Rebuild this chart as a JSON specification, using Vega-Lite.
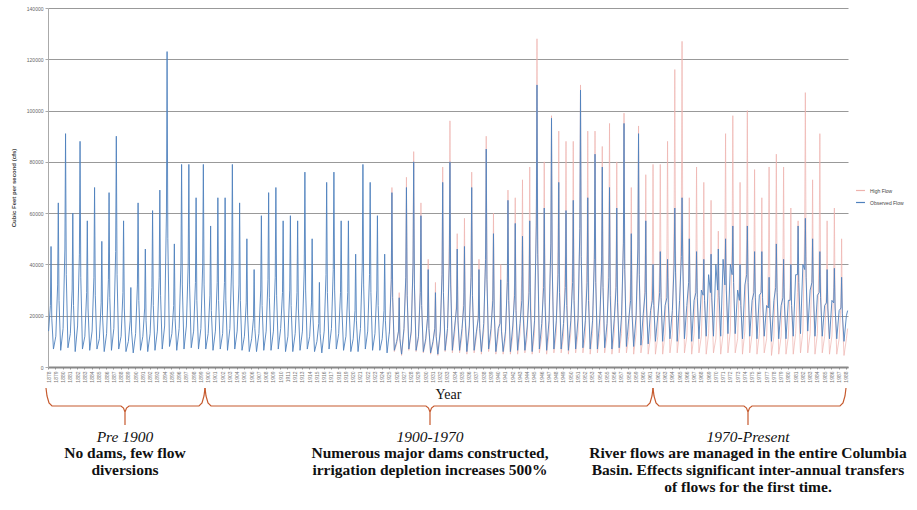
{
"$schema":"https://vega.github.io/schema/vega-lite/v6.json",
"width":800,"height":359,
"autosize":{"type":"none"},
"padding":{"left":48,"top":8,"right":69,"bottom":143},
"background":"white",
"config":{"view":{"stroke":null},"font":"Liberation Sans"},
"datasets":{
"flow":[
{"t":1878.08,"o":14000},{"t":1878.33,"o":24000},{"t":1878.42,"o":47000},{"t":1878.52,"o":19000},{"t":1878.75,"o":7000},
{"t":1879.08,"o":12000},{"t":1879.33,"o":32000},{"t":1879.42,"o":64000},{"t":1879.52,"o":26000},{"t":1879.75,"o":6500},
{"t":1880.08,"o":15000},{"t":1880.33,"o":46000},{"t":1880.42,"o":91000},{"t":1880.52,"o":36000},{"t":1880.75,"o":7500},
{"t":1881.08,"o":13000},{"t":1881.33,"o":30000},{"t":1881.42,"o":60000},{"t":1881.52,"o":24000},{"t":1881.75,"o":6000},
{"t":1882.08,"o":16000},{"t":1882.33,"o":44000},{"t":1882.42,"o":88000},{"t":1882.52,"o":35000},{"t":1882.75,"o":7000},
{"t":1883.08,"o":12000},{"t":1883.33,"o":29000},{"t":1883.42,"o":57000},{"t":1883.52,"o":23000},{"t":1883.75,"o":6500},
{"t":1884.08,"o":14000},{"t":1884.33,"o":35000},{"t":1884.42,"o":70000},{"t":1884.52,"o":28000},{"t":1884.75,"o":7000},
{"t":1885.08,"o":11000},{"t":1885.33,"o":25000},{"t":1885.42,"o":49000},{"t":1885.52,"o":20000},{"t":1885.75,"o":6000},
{"t":1886.08,"o":13000},{"t":1886.33,"o":34000},{"t":1886.42,"o":68000},{"t":1886.52,"o":27000},{"t":1886.75,"o":6500},
{"t":1887.08,"o":15000},{"t":1887.33,"o":45000},{"t":1887.42,"o":90000},{"t":1887.52,"o":36000},{"t":1887.75,"o":7000},
{"t":1888.08,"o":12000},{"t":1888.33,"o":29000},{"t":1888.42,"o":57000},{"t":1888.52,"o":23000},{"t":1888.75,"o":6000},
{"t":1889.08,"o":10000},{"t":1889.33,"o":18000},{"t":1889.42,"o":31000},{"t":1889.52,"o":14000},{"t":1889.75,"o":5500},
{"t":1890.08,"o":13000},{"t":1890.33,"o":32000},{"t":1890.42,"o":64000},{"t":1890.52,"o":26000},{"t":1890.75,"o":6500},
{"t":1891.08,"o":12000},{"t":1891.33,"o":23000},{"t":1891.42,"o":46000},{"t":1891.52,"o":18000},{"t":1891.75,"o":6000},
{"t":1892.08,"o":13000},{"t":1892.33,"o":31000},{"t":1892.42,"o":61000},{"t":1892.52,"o":24000},{"t":1892.75,"o":6500},
{"t":1893.08,"o":14000},{"t":1893.33,"o":35000},{"t":1893.42,"o":69000},{"t":1893.52,"o":28000},{"t":1893.75,"o":7000},
{"t":1894.08,"o":16000},{"t":1894.33,"o":60000},{"t":1894.42,"o":123000},{"t":1894.52,"o":50000},{"t":1894.75,"o":8000},
{"t":1895.08,"o":13000},{"t":1895.33,"o":24000},{"t":1895.42,"o":48000},{"t":1895.52,"o":19000},{"t":1895.75,"o":6500},
{"t":1896.08,"o":15000},{"t":1896.33,"o":40000},{"t":1896.42,"o":79000},{"t":1896.52,"o":32000},{"t":1896.75,"o":7000},
{"t":1897.08,"o":16000},{"t":1897.33,"o":40000},{"t":1897.42,"o":79000},{"t":1897.52,"o":32000},{"t":1897.75,"o":7500},
{"t":1898.08,"o":14000},{"t":1898.33,"o":33000},{"t":1898.42,"o":66000},{"t":1898.52,"o":26000},{"t":1898.75,"o":7000},
{"t":1899.08,"o":15000},{"t":1899.33,"o":40000},{"t":1899.42,"o":79000},{"t":1899.52,"o":32000},{"t":1899.75,"o":7000},
{"t":1900.08,"o":13000},{"t":1900.33,"o":28000},{"t":1900.42,"o":55000},{"t":1900.52,"o":22000},{"t":1900.75,"o":6500},
{"t":1901.08,"o":14000},{"t":1901.33,"o":33000},{"t":1901.42,"o":66000},{"t":1901.52,"o":26000},{"t":1901.75,"o":7000},
{"t":1902.08,"o":13000},{"t":1902.33,"o":33000},{"t":1902.42,"o":66000},{"t":1902.52,"o":26000},{"t":1902.75,"o":6500},
{"t":1903.08,"o":15000},{"t":1903.33,"o":40000},{"t":1903.42,"o":79000},{"t":1903.52,"o":32000},{"t":1903.75,"o":7000},
{"t":1904.08,"o":14000},{"t":1904.33,"o":32000},{"t":1904.42,"o":64000},{"t":1904.52,"o":26000},{"t":1904.75,"o":6500},
{"t":1905.08,"o":12000},{"t":1905.33,"o":25000},{"t":1905.42,"o":50000},{"t":1905.52,"o":20000},{"t":1905.75,"o":6000},
{"t":1906.08,"o":11000},{"t":1906.33,"o":19000},{"t":1906.42,"o":38000},{"t":1906.52,"o":15000},{"t":1906.75,"o":6000},
{"t":1907.08,"o":13000},{"t":1907.33,"o":30000},{"t":1907.42,"o":59000},{"t":1907.52,"o":24000},{"t":1907.75,"o":6500},
{"t":1908.08,"o":14000},{"t":1908.33,"o":34000},{"t":1908.42,"o":68000},{"t":1908.52,"o":27000},{"t":1908.75,"o":6500},
{"t":1909.08,"o":14000},{"t":1909.33,"o":35000},{"t":1909.42,"o":70000},{"t":1909.52,"o":28000},{"t":1909.75,"o":7000},
{"t":1910.08,"o":15000},{"t":1910.33,"o":29000},{"t":1910.42,"o":57000},{"t":1910.52,"o":23000},{"t":1910.75,"o":6000},
{"t":1911.08,"o":12000},{"t":1911.33,"o":30000},{"t":1911.42,"o":59000},{"t":1911.52,"o":24000},{"t":1911.75,"o":6000},
{"t":1912.08,"o":13000},{"t":1912.33,"o":29000},{"t":1912.42,"o":57000},{"t":1912.52,"o":23000},{"t":1912.75,"o":6500},
{"t":1913.08,"o":14000},{"t":1913.33,"o":38000},{"t":1913.42,"o":76000},{"t":1913.52,"o":30000},{"t":1913.75,"o":7000},
{"t":1914.08,"o":12000},{"t":1914.33,"o":25000},{"t":1914.42,"o":50000},{"t":1914.52,"o":20000},{"t":1914.75,"o":6000},
{"t":1915.08,"o":10000},{"t":1915.33,"o":17000},{"t":1915.42,"o":33000},{"t":1915.52,"o":13000},{"t":1915.75,"o":5500},
{"t":1916.08,"o":14000},{"t":1916.33,"o":36000},{"t":1916.42,"o":72000},{"t":1916.52,"o":29000},{"t":1916.75,"o":7000},
{"t":1917.08,"o":15000},{"t":1917.33,"o":38000},{"t":1917.42,"o":76000},{"t":1917.52,"o":30000},{"t":1917.75,"o":7000},
{"t":1918.08,"o":13000},{"t":1918.33,"o":29000},{"t":1918.42,"o":57000},{"t":1918.52,"o":23000},{"t":1918.75,"o":6500},
{"t":1919.08,"o":12000},{"t":1919.33,"o":29000},{"t":1919.42,"o":57000},{"t":1919.52,"o":23000},{"t":1919.75,"o":6000},
{"t":1920.08,"o":11000},{"t":1920.33,"o":22000},{"t":1920.42,"o":44000},{"t":1920.52,"o":18000},{"t":1920.75,"o":6000},
{"t":1921.08,"o":15000},{"t":1921.33,"o":40000},{"t":1921.42,"o":79000},{"t":1921.52,"o":32000},{"t":1921.75,"o":7000},
{"t":1922.08,"o":14000},{"t":1922.33,"o":36000},{"t":1922.42,"o":72000},{"t":1922.52,"o":29000},{"t":1922.75,"o":6500},
{"t":1923.08,"o":13000},{"t":1923.33,"o":30000},{"t":1923.42,"o":59000},{"t":1923.52,"o":24000},{"t":1923.75,"o":6500},
{"t":1924.08,"o":11000},{"t":1924.33,"o":22000},{"t":1924.42,"o":44000},{"t":1924.52,"o":18000},{"t":1924.75,"o":5500},
{"t":1925.08,"o":14000,"h":13000},{"t":1925.33,"o":34000,"h":34000},{"t":1925.42,"o":68000,"h":70000},{"t":1925.52,"o":27000,"h":27000},{"t":1925.75,"o":6500,"h":6000},
{"t":1926.08,"o":10000,"h":9000},{"t":1926.33,"o":14000,"h":14000},{"t":1926.42,"o":27000,"h":29000},{"t":1926.52,"o":11000,"h":11000},{"t":1926.75,"o":5000,"h":4500},
{"t":1927.08,"o":15000,"h":14000},{"t":1927.33,"o":35000,"h":36000},{"t":1927.42,"o":70000,"h":74000},{"t":1927.52,"o":28000,"h":28000},{"t":1927.75,"o":7000,"h":6500},
{"t":1928.08,"o":14000,"h":13000},{"t":1928.33,"o":40000,"h":41000},{"t":1928.42,"o":80000,"h":84000},{"t":1928.52,"o":32000,"h":32000},{"t":1928.75,"o":6500,"h":6000},
{"t":1929.08,"o":12000,"h":11000},{"t":1929.33,"o":29000,"h":31000},{"t":1929.42,"o":59000,"h":64000},{"t":1929.52,"o":24000,"h":24000},{"t":1929.75,"o":6000,"h":5500},
{"t":1930.08,"o":11000,"h":10000},{"t":1930.33,"o":19000,"h":20000},{"t":1930.42,"o":38000,"h":42000},{"t":1930.52,"o":15000,"h":15000},{"t":1930.75,"o":5500,"h":5000},
{"t":1931.08,"o":10000,"h":9000},{"t":1931.33,"o":15000,"h":16000},{"t":1931.42,"o":29000,"h":33000},{"t":1931.52,"o":12000,"h":12000},{"t":1931.75,"o":5000,"h":4500},
{"t":1932.08,"o":14000,"h":13000},{"t":1932.33,"o":36000,"h":38000},{"t":1932.42,"o":72000,"h":78000},{"t":1932.52,"o":29000,"h":29000},{"t":1932.75,"o":6500,"h":6000},
{"t":1933.08,"o":15000,"h":13000},{"t":1933.33,"o":40000,"h":48000},{"t":1933.42,"o":80000,"h":96000},{"t":1933.52,"o":32000,"h":38000},{"t":1933.75,"o":6500,"h":5500},
{"t":1934.08,"o":16000,"h":13000},{"t":1934.33,"o":23000,"h":26000},{"t":1934.42,"o":46000,"h":52000},{"t":1934.52,"o":18000,"h":21000},{"t":1934.75,"o":6500,"h":5500},
{"t":1935.08,"o":15000,"h":12000},{"t":1935.33,"o":24000,"h":29000},{"t":1935.42,"o":47000,"h":58000},{"t":1935.52,"o":19000,"h":23000},{"t":1935.75,"o":6000,"h":5000},
{"t":1936.08,"o":16000,"h":13000},{"t":1936.33,"o":35000,"h":38000},{"t":1936.42,"o":70000,"h":76000},{"t":1936.52,"o":28000,"h":30000},{"t":1936.75,"o":6500,"h":5500},
{"t":1937.08,"o":14000,"h":12000},{"t":1937.33,"o":19000,"h":21000},{"t":1937.42,"o":38000,"h":42000},{"t":1937.52,"o":15000,"h":17000},{"t":1937.75,"o":6000,"h":5000},
{"t":1938.08,"o":17000,"h":14000},{"t":1938.33,"o":42000,"h":45000},{"t":1938.42,"o":85000,"h":90000},{"t":1938.52,"o":34000,"h":36000},{"t":1938.75,"o":7000,"h":6000},
{"t":1939.08,"o":15000,"h":12000},{"t":1939.33,"o":26000,"h":30000},{"t":1939.42,"o":52000,"h":60000},{"t":1939.52,"o":21000,"h":24000},{"t":1939.75,"o":6000,"h":5000},
{"t":1940.08,"o":15000,"h":12000},{"t":1940.33,"o":17000,"h":20000},{"t":1940.42,"o":34000,"h":40000},{"t":1940.52,"o":14000,"h":16000},{"t":1940.75,"o":6000,"h":5000},
{"t":1941.08,"o":14000,"h":11000},{"t":1941.33,"o":33000,"h":35000},{"t":1941.42,"o":65000,"h":69000},{"t":1941.52,"o":26000,"h":28000},{"t":1941.75,"o":6000,"h":5000},
{"t":1942.08,"o":16000,"h":12000},{"t":1942.33,"o":28000,"h":33000},{"t":1942.42,"o":56000,"h":66000},{"t":1942.52,"o":22000,"h":26000},{"t":1942.75,"o":6500,"h":5000},
{"t":1943.08,"o":17000,"h":13000},{"t":1943.33,"o":26000,"h":36000},{"t":1943.42,"o":51000,"h":73000},{"t":1943.52,"o":20000,"h":29000},{"t":1943.75,"o":6500,"h":5500},
{"t":1944.08,"o":16000,"h":12000},{"t":1944.33,"o":29000,"h":39000},{"t":1944.42,"o":57000,"h":78000},{"t":1944.52,"o":23000,"h":31000},{"t":1944.75,"o":6000,"h":5000},
{"t":1945.08,"o":18000,"h":13000},{"t":1945.33,"o":55000,"h":64000},{"t":1945.42,"o":110000,"h":128000},{"t":1945.52,"o":44000,"h":51000},{"t":1945.75,"o":7000,"h":5500},
{"t":1946.08,"o":17000,"h":12000},{"t":1946.33,"o":31000,"h":40000},{"t":1946.42,"o":62000,"h":80000},{"t":1946.52,"o":25000,"h":32000},{"t":1946.75,"o":6500,"h":5000},
{"t":1947.08,"o":18000,"h":13000},{"t":1947.33,"o":48000,"h":49000},{"t":1947.42,"o":97000,"h":98000},{"t":1947.52,"o":39000,"h":39000},{"t":1947.75,"o":7000,"h":5500},
{"t":1948.08,"o":18000,"h":13000},{"t":1948.33,"o":36000,"h":46000},{"t":1948.42,"o":72000,"h":92000},{"t":1948.52,"o":29000,"h":37000},{"t":1948.75,"o":7000,"h":5500},
{"t":1949.08,"o":17000,"h":12000},{"t":1949.33,"o":31000,"h":44000},{"t":1949.42,"o":61000,"h":88000},{"t":1949.52,"o":24000,"h":35000},{"t":1949.75,"o":6500,"h":5000},
{"t":1950.08,"o":18000,"h":13000},{"t":1950.33,"o":33000,"h":44000},{"t":1950.42,"o":65000,"h":88000},{"t":1950.52,"o":26000,"h":35000},{"t":1950.75,"o":7000,"h":5500},
{"t":1951.08,"o":19000,"h":13000},{"t":1951.33,"o":54000,"h":55000},{"t":1951.42,"o":108000,"h":110000},{"t":1951.52,"o":43000,"h":44000},{"t":1951.75,"o":7500,"h":5500},
{"t":1952.08,"o":18000,"h":12000},{"t":1952.33,"o":33000,"h":46000},{"t":1952.42,"o":66000,"h":92000},{"t":1952.52,"o":26000,"h":37000},{"t":1952.75,"o":7000,"h":5000},
{"t":1953.08,"o":18000,"h":13000},{"t":1953.33,"o":42000,"h":46000},{"t":1953.42,"o":83000,"h":92000},{"t":1953.52,"o":33000,"h":37000},{"t":1953.75,"o":7000,"h":5500},
{"t":1954.08,"o":19000,"h":13000},{"t":1954.33,"o":39000,"h":43000},{"t":1954.42,"o":78000,"h":86000},{"t":1954.52,"o":31000,"h":34000},{"t":1954.75,"o":7500,"h":5500},
{"t":1955.08,"o":17000,"h":12000},{"t":1955.33,"o":35000,"h":48000},{"t":1955.42,"o":70000,"h":95000},{"t":1955.52,"o":28000,"h":38000},{"t":1955.75,"o":7000,"h":5000},
{"t":1956.08,"o":19000,"h":13000},{"t":1956.33,"o":31000,"h":40000},{"t":1956.42,"o":62000,"h":80000},{"t":1956.52,"o":25000,"h":32000},{"t":1956.75,"o":7500,"h":5500},
{"t":1957.08,"o":20000,"h":13000},{"t":1957.33,"o":48000,"h":50000},{"t":1957.42,"o":95000,"h":99000},{"t":1957.52,"o":38000,"h":40000},{"t":1957.75,"o":8000,"h":5500},
{"t":1958.08,"o":19000,"h":12000},{"t":1958.33,"o":26000,"h":35000},{"t":1958.42,"o":52000,"h":70000},{"t":1958.52,"o":21000,"h":28000},{"t":1958.75,"o":8000,"h":5000},
{"t":1959.08,"o":20000,"h":13000},{"t":1959.33,"o":46000,"h":47000},{"t":1959.42,"o":91000,"h":94000},{"t":1959.52,"o":36000,"h":38000},{"t":1959.75,"o":8500,"h":5500},
{"t":1960.08,"o":21000,"h":12000},{"t":1960.33,"o":29000,"h":38000},{"t":1960.42,"o":57000,"h":75000},{"t":1960.52,"o":23000,"h":30000},{"t":1960.75,"o":9000,"h":5000},
{"t":1961.08,"o":22000,"h":12000},{"t":1961.33,"o":26000,"h":40000},{"t":1961.42,"o":40000,"h":79000},{"t":1961.52,"o":24000,"h":32000},{"t":1961.75,"o":10000,"h":5000},
{"t":1962.08,"o":20000,"h":12000},{"t":1962.33,"o":29000,"h":40000},{"t":1962.42,"o":45000,"h":79000},{"t":1962.52,"o":27000,"h":32000},{"t":1962.75,"o":10000,"h":5000},
{"t":1963.08,"o":24000,"h":13000},{"t":1963.33,"o":27000,"h":44000},{"t":1963.42,"o":42000,"h":88000},{"t":1963.52,"o":25000,"h":35000},{"t":1963.75,"o":11000,"h":5500},
{"t":1964.08,"o":22000,"h":13000},{"t":1964.33,"o":40000,"h":58000},{"t":1964.42,"o":62000,"h":116000},{"t":1964.52,"o":37000,"h":46000},{"t":1964.75,"o":10000,"h":5500},
{"t":1965.08,"o":26000,"h":14000},{"t":1965.33,"o":43000,"h":64000},{"t":1965.42,"o":66000,"h":127000},{"t":1965.52,"o":40000,"h":51000},{"t":1965.75,"o":11000,"h":5500},
{"t":1966.08,"o":24000,"h":12000},{"t":1966.33,"o":33000,"h":33000},{"t":1966.42,"o":50000,"h":66000},{"t":1966.52,"o":30000,"h":26000},{"t":1966.75,"o":10000,"h":5000},
{"t":1967.08,"o":26000,"h":13000},{"t":1967.33,"o":29000,"h":39000},{"t":1967.42,"o":45000,"h":78000},{"t":1967.52,"o":27000,"h":31000},{"t":1967.75,"o":11000,"h":5500},
{"t":1968.08,"o":30000,"h":12000},{"t":1968.33,"o":28000,"h":36000},{"t":1968.42,"o":42000,"h":72000},{"t":1968.52,"o":26000,"h":29000},{"t":1968.75,"o":12000,"h":5000},
{"t":1969.08,"o":36000,"h":13000},{"t":1969.33,"o":29000,"h":33000},{"t":1969.42,"o":44000,"h":65000},{"t":1969.52,"o":27000,"h":26000},{"t":1969.75,"o":12000,"h":5500},
{"t":1970.08,"o":40000,"h":11000},{"t":1970.33,"o":30000,"h":27000},{"t":1970.42,"o":46000,"h":53000},{"t":1970.52,"o":28000,"h":21000},{"t":1970.75,"o":12000,"h":5000},
{"t":1971.08,"o":42000,"h":13000},{"t":1971.33,"o":32000,"h":46000},{"t":1971.42,"o":50000,"h":91000},{"t":1971.52,"o":30000,"h":36000},{"t":1971.75,"o":13000,"h":5500},
{"t":1972.08,"o":40000,"h":14000},{"t":1972.33,"o":36000,"h":49000},{"t":1972.42,"o":55000,"h":98000},{"t":1972.52,"o":33000,"h":39000},{"t":1972.75,"o":13000,"h":5500},
{"t":1973.08,"o":30000,"h":11000},{"t":1973.33,"o":26000,"h":36000},{"t":1973.42,"o":40000,"h":72000},{"t":1973.52,"o":24000,"h":29000},{"t":1973.75,"o":11000,"h":5000},
{"t":1974.08,"o":32000,"h":14000},{"t":1974.33,"o":36000,"h":50000},{"t":1974.42,"o":55000,"h":100000},{"t":1974.52,"o":33000,"h":40000},{"t":1974.75,"o":12000,"h":5500},
{"t":1975.08,"o":26000,"h":13000},{"t":1975.33,"o":29000,"h":39000},{"t":1975.42,"o":45000,"h":77000},{"t":1975.52,"o":27000,"h":31000},{"t":1975.75,"o":11000,"h":5000},
{"t":1976.08,"o":28000,"h":13000},{"t":1976.33,"o":29000,"h":33000},{"t":1976.42,"o":45000,"h":66000},{"t":1976.52,"o":27000,"h":26000},{"t":1976.75,"o":12000,"h":5500},
{"t":1977.08,"o":24000,"h":11000},{"t":1977.33,"o":23000,"h":39000},{"t":1977.42,"o":35000,"h":78000},{"t":1977.52,"o":21000,"h":31000},{"t":1977.75,"o":10000,"h":4500},
{"t":1978.08,"o":26000,"h":12000},{"t":1978.33,"o":31000,"h":42000},{"t":1978.42,"o":48000,"h":83000},{"t":1978.52,"o":29000,"h":33000},{"t":1978.75,"o":11000,"h":5000},
{"t":1979.08,"o":24000,"h":12000},{"t":1979.33,"o":27000,"h":39000},{"t":1979.42,"o":42000,"h":78000},{"t":1979.52,"o":25000,"h":31000},{"t":1979.75,"o":11000,"h":5000},
{"t":1980.08,"o":26000,"h":12000},{"t":1980.33,"o":26000,"h":31000},{"t":1980.42,"o":40000,"h":62000},{"t":1980.52,"o":24000,"h":25000},{"t":1980.75,"o":12000,"h":5000},
{"t":1981.08,"o":36000,"h":13000},{"t":1981.33,"o":36000,"h":29000},{"t":1981.42,"o":55000,"h":57000},{"t":1981.52,"o":33000,"h":23000},{"t":1981.75,"o":13000,"h":5500},
{"t":1982.08,"o":40000,"h":14000},{"t":1982.33,"o":38000,"h":54000},{"t":1982.42,"o":58000,"h":107000},{"t":1982.52,"o":35000,"h":43000},{"t":1982.75,"o":14000,"h":5500},
{"t":1983.08,"o":30000,"h":13000},{"t":1983.33,"o":33000,"h":37000},{"t":1983.42,"o":50000,"h":73000},{"t":1983.52,"o":30000,"h":29000},{"t":1983.75,"o":12000,"h":5000},
{"t":1984.08,"o":28000,"h":13000},{"t":1984.33,"o":29000,"h":46000},{"t":1984.42,"o":45000,"h":91000},{"t":1984.52,"o":27000,"h":36000},{"t":1984.75,"o":12000,"h":5500},
{"t":1985.08,"o":24000,"h":12000},{"t":1985.33,"o":25000,"h":29000},{"t":1985.42,"o":38000,"h":57000},{"t":1985.52,"o":23000,"h":23000},{"t":1985.75,"o":11000,"h":5000},
{"t":1986.08,"o":26000,"h":12000},{"t":1986.33,"o":25000,"h":31000},{"t":1986.42,"o":38500,"h":62000},{"t":1986.52,"o":23000,"h":25000},{"t":1986.75,"o":11000,"h":5000},
{"t":1987.08,"o":22000,"h":11000},{"t":1987.33,"o":23000,"h":25000},{"t":1987.42,"o":35000,"h":50000},{"t":1987.52,"o":21000,"h":20000},{"t":1987.75,"o":10000,"h":4500},
{"t":1988.08,"o":20000,"h":11000},{"t":1988.25,"o":22000,"h":15000}
],
"braces":[
{"b":1,"i":1,"t":1877.724,"v":-8190},{"b":1,"i":2,"t":1877.862,"v":-11310},{"b":1,"i":3,"t":1878.138,"v":-14040},{"b":1,"i":4,"t":1878.551,"v":-15210},{"b":1,"i":5,"t":1888.065,"v":-15210},{"b":1,"i":6,"t":1888.409,"v":-15990},{"b":1,"i":7,"t":1888.616,"v":-17550},{"b":1,"i":8,"t":1888.616,"v":-22620},{"b":1,"i":9,"t":1888.616,"v":-17550},{"b":1,"i":10,"t":1888.823,"v":-15990},{"b":1,"i":11,"t":1889.168,"v":-15210},{"b":1,"i":12,"t":1898.819,"v":-15210},{"b":1,"i":13,"t":1899.233,"v":-14040},{"b":1,"i":14,"t":1899.508,"v":-11310},{"b":1,"i":15,"t":1899.646,"v":-8190},
{"b":2,"i":1,"t":1899.646,"v":-8190},{"b":2,"i":2,"t":1899.784,"v":-11310},{"b":2,"i":3,"t":1900.060,"v":-14040},{"b":2,"i":4,"t":1900.474,"v":-15210},{"b":2,"i":5,"t":1930.116,"v":-15210},{"b":2,"i":6,"t":1930.461,"v":-15990},{"b":2,"i":7,"t":1930.668,"v":-17550},{"b":2,"i":8,"t":1930.668,"v":-22620},{"b":2,"i":9,"t":1930.668,"v":-17550},{"b":2,"i":10,"t":1930.875,"v":-15990},{"b":2,"i":11,"t":1931.219,"v":-15210},{"b":2,"i":12,"t":1960.586,"v":-15210},{"b":2,"i":13,"t":1961.000,"v":-14040},{"b":2,"i":14,"t":1961.276,"v":-11310},{"b":2,"i":15,"t":1961.414,"v":-8190},
{"b":3,"i":1,"t":1961.414,"v":-8190},{"b":3,"i":2,"t":1961.552,"v":-11310},{"b":3,"i":3,"t":1961.827,"v":-14040},{"b":3,"i":4,"t":1962.241,"v":-15210},{"b":3,"i":5,"t":1973.960,"v":-15210},{"b":3,"i":6,"t":1974.305,"v":-15990},{"b":3,"i":7,"t":1974.512,"v":-17550},{"b":3,"i":8,"t":1974.512,"v":-22620},{"b":3,"i":9,"t":1974.512,"v":-17550},{"b":3,"i":10,"t":1974.719,"v":-15990},{"b":3,"i":11,"t":1975.063,"v":-15210},{"b":3,"i":12,"t":1987.196,"v":-15210},{"b":3,"i":13,"t":1987.610,"v":-14040},{"b":3,"i":14,"t":1987.886,"v":-11310},{"b":3,"i":15,"t":1988.023,"v":-8190}
],
"heads":[
{"t":1888.616,"v":-27300,"txt":"Pre 1900"},
{"t":1930.668,"v":-27300,"txt":"1900-1970"},
{"t":1974.512,"v":-27300,"txt":"1970-Present"}
],
"bodies":[
{"t":1888.616,"v":-33540,"txt":"No dams, few flow"},
{"t":1888.616,"v":-40170,"txt":"diversions"},
{"t":1930.668,"v":-33540,"txt":"Numerous major dams constructed,"},
{"t":1930.668,"v":-40170,"txt":"irrigation depletion increases 500%"},
{"t":1974.512,"v":-33540,"txt":"River flows are managed in the entire Columbia"},
{"t":1974.512,"v":-40170,"txt":"Basin. Effects significant inter-annual transfers"},
{"t":1974.512,"v":-46800,"txt":"of flows for the first time."}
]
},
"layer":[
{"data":{"name":"flow"},
 "mark":{"type":"line","strokeWidth":0.7},
 "encoding":{
  "x":{"field":"t","type":"quantitative","scale":{"domain":[1878,1988.3],"nice":false,"zero":false},
   "axis":{"title":"Year","tickCount":110,"format":"d","labelAngle":-90,"labelFontSize":5,"labelColor":"#777","labelOverlap":false,"labelPadding":2,"grid":false,"domainColor":"#888","domainWidth":2,"tickSize":2,"tickColor":"#999","titleFont":"Liberation Serif","titleFontSize":14,"titleFontWeight":"normal","titleColor":"#111","titlePadding":5}},
  "y":{"field":"h","type":"quantitative","scale":{"domain":[0,140000],"nice":false},
   "axis":{"title":"Cubic Feet per second (cfs)","values":[0,20000,40000,60000,80000,100000,120000,140000],"format":"d","labelFontSize":5,"labelColor":"#666","labelPadding":2,"tickSize":3,"tickColor":"#aaa","domainColor":"#aaa","gridColor":"#999","titleFontSize":6,"titleFontWeight":"bold","titleColor":"#444","titlePadding":10}},
  "color":{"datum":"High Flow","scale":{"domain":["High Flow","Observed Flow"],"range":["#eeb2ad","#4f81bd"]},
   "legend":{"orient":"none","legendX":807,"legendY":177,"title":null,"labelFontSize":5,"labelColor":"#444","symbolType":"stroke","symbolStrokeWidth":1.2,"symbolSize":80,"rowPadding":3}}
 }},
{"data":{"name":"flow"},
 "mark":{"type":"line","strokeWidth":0.9},
 "encoding":{
  "x":{"field":"t","type":"quantitative"},
  "y":{"field":"o","type":"quantitative"},
  "color":{"datum":"Observed Flow"}
 }},
{"data":{"name":"braces"},
 "mark":{"type":"line","color":"#c65a2e","strokeWidth":1.2},
 "encoding":{
  "x":{"field":"t","type":"quantitative"},
  "y":{"field":"v","type":"quantitative"},
  "detail":{"field":"b"},
  "order":{"field":"i"}
 }},
{"data":{"name":"heads"},
 "mark":{"type":"text","font":"Liberation Serif","fontSize":15.5,"fontStyle":"italic","color":"#111","baseline":"middle"},
 "encoding":{
  "x":{"field":"t","type":"quantitative"},
  "y":{"field":"v","type":"quantitative"},
  "text":{"field":"txt"}
 }},
{"data":{"name":"bodies"},
 "mark":{"type":"text","font":"Liberation Serif","fontSize":15.5,"fontWeight":"bold","color":"#111","baseline":"middle"},
 "encoding":{
  "x":{"field":"t","type":"quantitative"},
  "y":{"field":"v","type":"quantitative"},
  "text":{"field":"txt"}
 }}
]
}
